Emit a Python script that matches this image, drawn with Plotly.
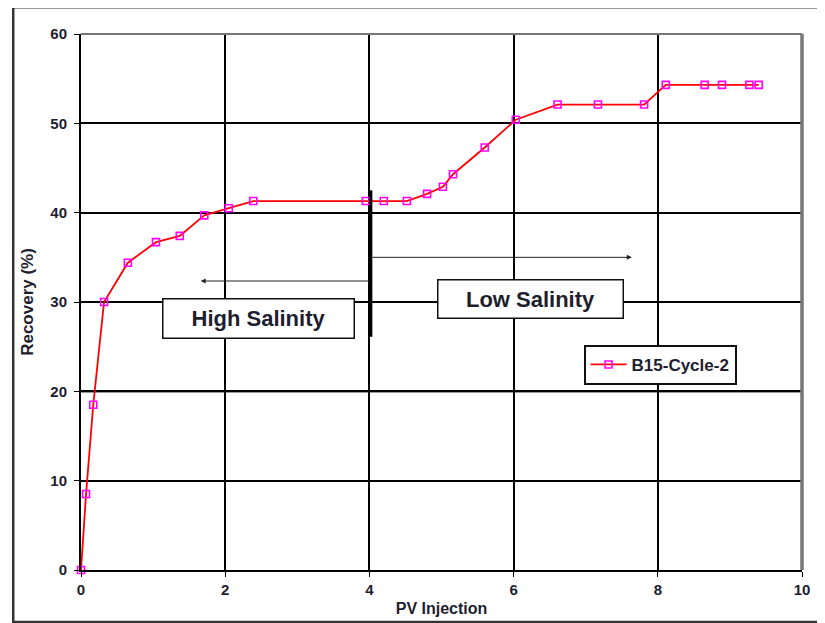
import plotly.graph_objects as go

pv_injection = [0.0, 0.07, 0.17, 0.32, 0.65, 1.04, 1.37, 1.71, 2.05, 2.39,
                3.95, 4.20, 4.52, 4.80, 5.02, 5.16, 5.60, 6.03, 6.61, 7.17,
                7.81, 8.11, 8.65, 8.89, 9.27, 9.40]
recovery = [0.0, 8.5, 18.5, 30.0, 34.4, 36.7, 37.4, 39.7, 40.5, 41.3,
            41.3, 41.3, 41.3, 42.1, 42.9, 44.3, 47.3, 50.4, 52.1, 52.1,
            52.1, 54.3, 54.3, 54.3, 54.3, 54.3]
series_name = "B15-Cycle-2"
x_ticks = [0, 2, 4, 6, 8, 10]
y_ticks = [0, 10, 20, 30, 40, 50, 60]

FONT = "Liberation Sans, Arial, sans-serif"
TXT = "#1e1e2e"

fig = go.Figure()
fig.add_trace(go.Scatter(
    x=pv_injection, y=recovery, mode="lines+markers", name=series_name,
    line=dict(color="#ff0000", width=1.8), cliponaxis=False,
    marker=dict(symbol="square-open", size=7, color="#ff00ff",
                line=dict(color="#ff00ff", width=1.6)),
))

# page has an 8px body margin, so the figure is 8px smaller than the window
fig.update_layout(
    width=817, height=615,
    margin=dict(l=73, r=23, t=26, b=53),
    paper_bgcolor="white", plot_bgcolor="white",
    font=dict(family=FONT, color=TXT),
    showlegend=True,
    legend=dict(x=0.697, y=0.42, xanchor="left", yanchor="top",
                bordercolor="#111", borderwidth=2, bgcolor="white",
                font=dict(family=FONT, size=17, color=TXT, weight="bold"),
                itemwidth=36),
    xaxis=dict(range=[0, 10], tickvals=x_ticks, showgrid=True,
               gridcolor="black", gridwidth=1.5, showline=True,
               linecolor="black", linewidth=2, ticks="outside",
               ticklen=5, tickcolor="black", zeroline=False,
               automargin=False,
               tickfont=dict(size=15, weight="bold", color=TXT),
               title=dict(text="<b>PV Injection</b>", font=dict(size=16),
                          standoff=6)),
    yaxis=dict(range=[0, 60], tickvals=y_ticks, showgrid=True,
               gridcolor="black", gridwidth=1.5, showline=True,
               linecolor="black", linewidth=2, ticks="outside",
               ticklen=5, tickcolor="black", zeroline=False,
               automargin=False, ticklabelstandoff=4,
               tickfont=dict(size=15, weight="bold", color=TXT),
               title=dict(text="<b>Recovery (%)</b>", font=dict(size=17),
                          standoff=12)),
)

shapes = [
    # outer frame
    dict(type="rect", xref="paper", yref="paper", x0=-0.094, x1=1.07,
         y0=-0.097, y1=1.050, line=dict(color="#333", width=2.5), layer="below"),
    # slightly heavier 20% line as in the source scan
    dict(type="line", xref="paper", yref="y", x0=0, x1=1, y0=20, y1=20,
         line=dict(color="#333", width=2.5), layer="below"),
    # grey top and right plot border
    dict(type="line", xref="paper", yref="paper", x0=0, x1=1, y0=1, y1=1,
         line=dict(color="#777", width=2)),
    dict(type="line", xref="paper", yref="paper", x0=1, x1=1, y0=0, y1=1,
         line=dict(color="#777", width=3.5)),
    # thick boundary at 4 PV
    dict(type="line", xref="x", yref="y", x0=4.02, x1=4.02, y0=26.1, y1=42.5,
         line=dict(color="black", width=3)),
]
fig.update_layout(shapes=shapes)

fig.add_annotation(x=1.66, y=32.35, ax=4.02, ay=32.35, xref="x", yref="y",
                   axref="x", ayref="y", text="", showarrow=True,
                   arrowhead=2, arrowsize=1, arrowwidth=1, arrowcolor="#222")
fig.add_annotation(x=7.64, y=35.0, ax=4.02, ay=35.0, xref="x", yref="y",
                   axref="x", ayref="y", text="", showarrow=True,
                   arrowhead=2, arrowsize=1, arrowwidth=1, arrowcolor="#222")

fig.add_annotation(x=2.46, y=28.1, xref="x", yref="y", text="<b>High Salinity</b>",
                   showarrow=False, font=dict(size=22, color=TXT),
                   width=186, height=34, borderpad=2, bordercolor="#111",
                   borderwidth=1.5, bgcolor="white")
fig.add_annotation(x=6.23, y=30.3, xref="x", yref="y", text="<b>Low Salinity</b>",
                   showarrow=False, font=dict(size=22, color=TXT),
                   width=180, height=33, borderpad=2, bordercolor="#111",
                   borderwidth=1.5, bgcolor="white")

fig.write_html("out.html")
